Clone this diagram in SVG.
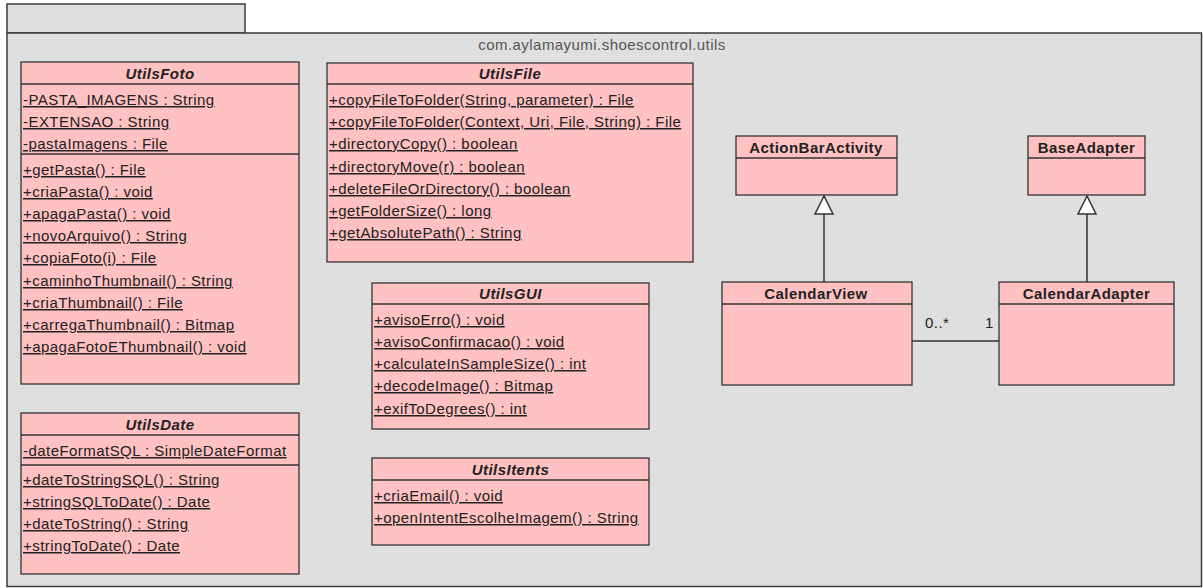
<svg xmlns="http://www.w3.org/2000/svg" width="1203" height="588" viewBox="0 0 1203 588">
<style>
.pkg{fill:#dfdfdf;stroke:#3c3c3c;stroke-width:1.5}
.cls{fill:#ffc1c1;stroke:#333;stroke-width:1.3}
.sep{stroke:#333;stroke-width:1.3}
text{font-family:"Liberation Sans",Arial,sans-serif;font-size:15px;fill:#222;letter-spacing:0.45px}
.m{text-decoration:underline}
.ti{font-weight:bold;font-style:italic;text-anchor:middle}
.tb{font-weight:bold;text-anchor:middle}
.plabel{fill:#555;text-anchor:middle}
.conn{stroke:#333;stroke-width:1.5;fill:none}
.gen{fill:#fff;stroke:#333;stroke-width:1.5}
</style>
<g id="package">
<rect class="pkg" x="7" y="4" width="238" height="29"/>
<rect class="pkg" x="7" y="33" width="1194.5" height="553.5"/>
<text class="plabel" x="602" y="50">com.aylamayumi.shoescontrol.utils</text>
</g>
<g id="UtilsFoto">
<rect class="cls" x="21" y="62" width="278" height="322"/>
<line class="sep" x1="21" y1="84" x2="299" y2="84"/>
<line class="sep" x1="21" y1="154" x2="299" y2="154"/>
<text class="ti" x="160" y="79">UtilsFoto</text>
<text class="m" x="23" y="105">-PASTA_IMAGENS : String</text>
<text class="m" x="23" y="127">-EXTENSAO : String</text>
<text class="m" x="23" y="149">-pastaImagens : File</text>
<text class="m" x="23" y="175">+getPasta() : File</text>
<text class="m" x="23" y="197">+criaPasta() : void</text>
<text class="m" x="23" y="219">+apagaPasta() : void</text>
<text class="m" x="23" y="241">+novoArquivo() : String</text>
<text class="m" x="23" y="263">+copiaFoto(i) : File</text>
<text class="m" x="23" y="286">+caminhoThumbnail() : String</text>
<text class="m" x="23" y="308">+criaThumbnail() : File</text>
<text class="m" x="23" y="330">+carregaThumbnail() : Bitmap</text>
<text class="m" x="23" y="352">+apagaFotoEThumbnail() : void</text>
</g>
<g id="UtilsDate">
<rect class="cls" x="21" y="413" width="278" height="161"/>
<line class="sep" x1="21" y1="435" x2="299" y2="435"/>
<line class="sep" x1="21" y1="465" x2="299" y2="465"/>
<text class="ti" x="160" y="430">UtilsDate</text>
<text class="m" x="23" y="456">-dateFormatSQL : SimpleDateFormat</text>
<text class="m" x="23" y="485">+dateToStringSQL() : String</text>
<text class="m" x="23" y="507">+stringSQLToDate() : Date</text>
<text class="m" x="23" y="529">+dateToString() : String</text>
<text class="m" x="23" y="551">+stringToDate() : Date</text>
</g>
<g id="UtilsFile">
<rect class="cls" x="327" y="63" width="366" height="199"/>
<line class="sep" x1="327" y1="84" x2="693" y2="84"/>
<text class="ti" x="510" y="79">UtilsFile</text>
<text class="m" x="329" y="105">+copyFileToFolder(String, parameter) : File</text>
<text class="m" x="329" y="127">+copyFileToFolder(Context, Uri, File, String) : File</text>
<text class="m" x="329" y="149">+directoryCopy() : boolean</text>
<text class="m" x="329" y="172">+directoryMove(r) : boolean</text>
<text class="m" x="329" y="194">+deleteFileOrDirectory() : boolean</text>
<text class="m" x="329" y="216">+getFolderSize() : long</text>
<text class="m" x="329" y="238">+getAbsolutePath() : String</text>
</g>
<g id="UtilsGUI">
<rect class="cls" x="372" y="283" width="277" height="146"/>
<line class="sep" x1="372" y1="304" x2="649" y2="304"/>
<text class="ti" x="510.5" y="299">UtilsGUI</text>
<text class="m" x="374" y="325">+avisoErro() : void</text>
<text class="m" x="374" y="347">+avisoConfirmacao() : void</text>
<text class="m" x="374" y="369">+calculateInSampleSize() : int</text>
<text class="m" x="374" y="391">+decodeImage() : Bitmap</text>
<text class="m" x="374" y="414">+exifToDegrees() : int</text>
</g>
<g id="UtilsItents">
<rect class="cls" x="372" y="458" width="277" height="87"/>
<line class="sep" x1="372" y1="480" x2="649" y2="480"/>
<text class="ti" x="510.5" y="475">UtilsItents</text>
<text class="m" x="374" y="501">+criaEmail() : void</text>
<text class="m" x="374" y="523">+openIntentEscolheImagem() : String</text>
</g>
<g id="ActionBarActivity">
<rect class="cls" x="736" y="136" width="161" height="59"/>
<line class="sep" x1="736" y1="158" x2="897" y2="158"/>
<text class="tb" x="816" y="153">ActionBarActivity</text>
</g>
<g id="BaseAdapter">
<rect class="cls" x="1028" y="136" width="117" height="59"/>
<line class="sep" x1="1028" y1="158" x2="1145" y2="158"/>
<text class="tb" x="1086.5" y="153">BaseAdapter</text>
</g>
<g id="CalendarView">
<rect class="cls" x="722" y="282" width="190" height="103"/>
<line class="sep" x1="722" y1="304" x2="912" y2="304"/>
<text class="tb" x="816" y="299">CalendarView</text>
</g>
<g id="CalendarAdapter">
<rect class="cls" x="999" y="282" width="175" height="103"/>
<line class="sep" x1="999" y1="304" x2="1174" y2="304"/>
<text class="tb" x="1086.5" y="299">CalendarAdapter</text>
</g>
<g id="connectors">
<line class="conn" x1="824" y1="282" x2="824" y2="214"/>
<polygon class="gen" points="824,196 815,214 833,214"/>
<line class="conn" x1="1087" y1="282" x2="1087" y2="214"/>
<polygon class="gen" points="1087,196 1078,214 1096,214"/>
<line class="conn" x1="912" y1="341" x2="999" y2="341"/>
<text x="925" y="328">0..*</text>
<text x="985" y="328">1</text>
</g>
</svg>
